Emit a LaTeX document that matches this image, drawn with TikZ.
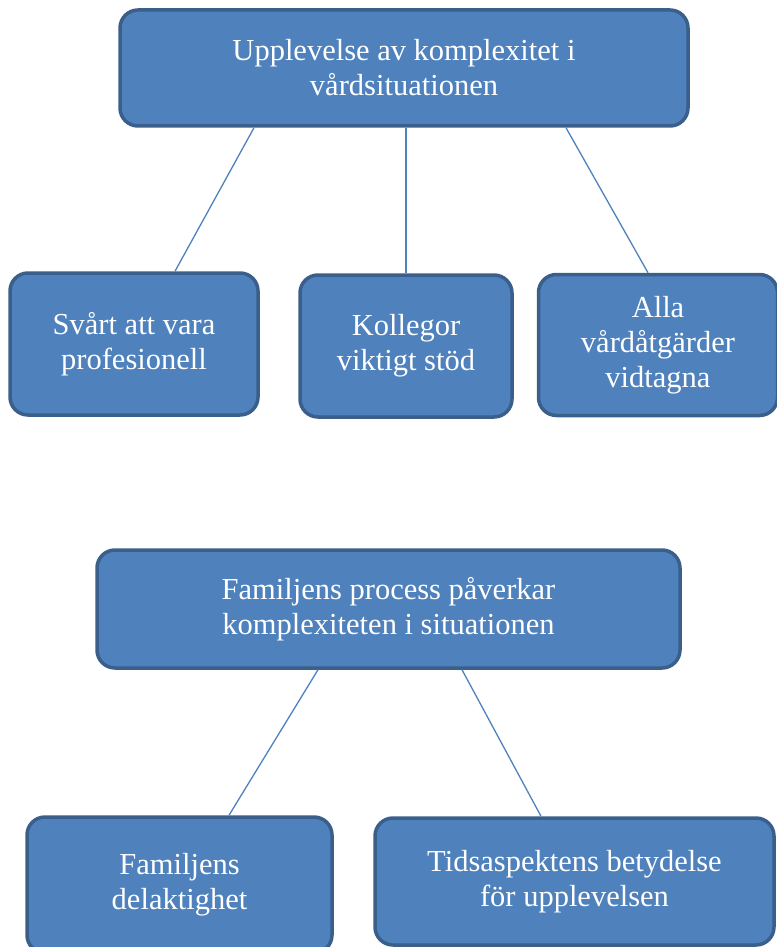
\documentclass[tikz,border=0pt]{standalone}
\usepackage{fontspec}
\setmainfont{Liberation Serif}
\usepackage{xcolor}
\definecolor{box-fill}{HTML}{4F81BD}
\definecolor{box-edge}{HTML}{3A5F8B}
\definecolor{link}{HTML}{4F81BD}

\begin{document}
\begin{tikzpicture}[x=1pt, y=-1pt,
    box/.style={draw=box-edge, line width=3.5pt, fill=box-fill, rounded corners=18pt,
      text=white, align=center, inner sep=0pt,
      font=\fontsize{30.5}{35}\selectfont},
    link/.style={draw=link, line width=1.3pt}]
  \useasboundingbox (0,0) rectangle (776,947);
  \node[box, minimum width=568pt, minimum height=116pt] (top) at (404,68)
    {Upplevelse av komplexitet i\\vårdsituationen};
  \node[box, minimum width=248pt, minimum height=142pt] (svart) at (134,344)
    {Svårt att vara\\profesionell};
  \node[box, minimum width=212pt, minimum height=142pt] (kollegor) at (406,346)
    {Kollegor\\viktigt stöd};
  \node[box, minimum width=239pt, minimum height=141pt] (alla) at (658,345)
    {Alla\\vårdåtgärder\\vidtagna};
  \node[box, minimum width=583pt, minimum height=118pt] (process) at (388.5,609)
    {Familjens process påverkar\\komplexiteten i situationen};
  \node[box, minimum width=305pt, minimum height=136pt] (delakt) at (179.5,885)
    {Familjens\\delaktighet};
  \node[box, minimum width=399pt, minimum height=127pt] (tid) at (574.5,881.5)
    {Tidsaspektens betydelse\\för upplevelsen};
  \draw[link] ([xshift=-150pt]top.south) -- ([xshift=41pt]svart.north);
  \draw[link] ([xshift=2pt]top.south) -- (kollegor.north);
  \draw[link] ([xshift=162pt]top.south) -- ([xshift=-10pt]alla.north);
  \draw[link] ([xshift=-70.5pt]process.south) -- ([xshift=49.5pt]delakt.north);
  \draw[link] ([xshift=73.5pt]process.south) -- ([xshift=-33.5pt]tid.north);
\end{tikzpicture}
\end{document}
